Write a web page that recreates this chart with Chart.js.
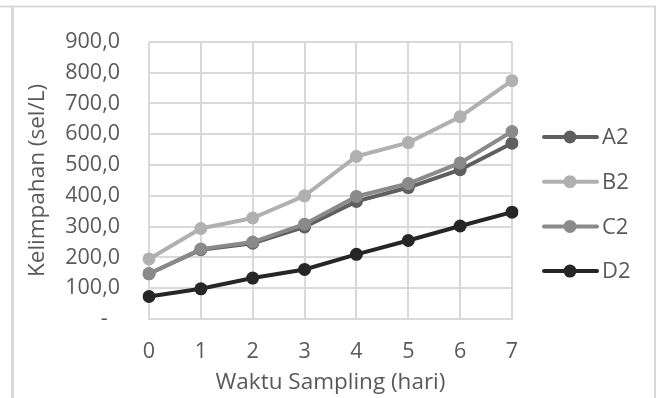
<!DOCTYPE html>
<html>
<head>
<meta charset="utf-8">
<script src="https://cdn.jsdelivr.net/npm/chart.js@4/dist/chart.umd.min.js"></script>
<style>
  html, body { margin: 0; padding: 0; background: #fff; }
  #wrap { width: 658px; height: 398px; }
</style>
</head>
<body>
<div id="wrap"><canvas id="chart" width="658" height="398"></canvas></div>
<script>
// hari ke-
var days = ["0", "1", "2", "3", "4", "5", "6", "7"];
var seriesNames = ["A2", "B2", "C2", "D2"];
var seriesColors = ["#5f5f5f", "#b0b0b0", "#8a8a8a", "#262626"];

var a2 = [147, 225, 246, 299, 382, 427, 485, 571];
var b2 = [195, 294, 328, 400, 528, 573, 657, 774];
var c2 = [147, 227, 250, 308, 398, 440, 507, 609];
var d2 = [73, 98, 133, 161, 210, 255, 302, 347];

var allValues = [a2, b2, c2, d2];
var textColor = "#595959";
var gridColor = "#d9d9d9";
var fontFamily = "'Open Sans', 'Noto Sans', sans-serif";

// frame + legend, Excel style
var excelBits = {
    id: "excelBits",
    beforeDraw: function (chart) {
        var ctx = chart.ctx;
        ctx.save();
        ctx.strokeStyle = gridColor;
        ctx.lineWidth = 2;
        ctx.beginPath();
        ctx.moveTo(0, 6.5);
        ctx.lineTo(656, 6.5);
        ctx.moveTo(655, 6.5);
        ctx.lineTo(655, 398);
        ctx.stroke();
        ctx.lineWidth = 3;
        ctx.beginPath();
        ctx.moveTo(12.5, 6);
        ctx.lineTo(12.5, 398);
        ctx.stroke();
        ctx.restore();
    },
    afterDraw: function (chart) {
        var ctx = chart.ctx;
        ctx.save();
        chart.data.datasets.forEach(function (ds, i) {
            var y = 137 + i * 44.7;
            ctx.strokeStyle = ds.borderColor;
            ctx.lineWidth = 4;
            ctx.lineCap = "round";
            ctx.beginPath();
            ctx.moveTo(544, y);
            ctx.lineTo(597, y);
            ctx.stroke();
            ctx.fillStyle = ds.borderColor;
            ctx.beginPath();
            ctx.arc(570, y, 6.5, 0, Math.PI * 2);
            ctx.fill();
            ctx.fillStyle = textColor;
            ctx.font = "22px " + fontFamily;
            ctx.textBaseline = "middle";
            ctx.textAlign = "left";
            ctx.fillText(ds.label, 602, y + 1);
        });
        ctx.restore();
    }
};

var datasets = seriesNames.map(function (name, i) {
    return {
        label: name,
        data: allValues[i],
        borderColor: seriesColors[i],
        backgroundColor: seriesColors[i],
        borderWidth: 4,
        pointRadius: 6.5,
        pointHoverRadius: 6.5,
        pointBorderWidth: 0,
        tension: 0,
        order: seriesNames.length - 1 - i
    };
});

var ctx = document.getElementById("chart").getContext("2d");
var chart = new Chart(ctx, {
    type: "line",
    data: {
        labels: days,
        datasets: datasets
    },
    plugins: [excelBits],
    options: {
        responsive: false,
        animation: false,
        layout: {
            padding: { top: 36, right: 146, left: 0, bottom: 0 }
        },
        plugins: {
            legend: { display: false },
            tooltip: { enabled: false }
        },
        scales: {
            x: {
                offset: false,
                grid: { color: gridColor, lineWidth: 2, drawTicks: false },
                border: { color: gridColor, width: 2 },
                ticks: {
                    color: textColor,
                    font: { family: fontFamily, size: 21.5 },
                    padding: 20,
                    maxRotation: 0
                },
                title: {
                    display: true,
                    text: "Waktu Sampling (hari)",
                    color: textColor,
                    font: { family: fontFamily, size: 22.5 },
                    padding: { top: 0, bottom: 2 }
                },
                afterFit: function (scale) { scale.height = 79; }
            },
            y: {
                min: 0,
                max: 900,
                grid: { color: gridColor, lineWidth: 2, drawTicks: false },
                border: { display: false },
                ticks: {
                    stepSize: 100,
                    color: textColor,
                    font: { family: fontFamily, size: 21.5 },
                    padding: 29,
                    callback: function (v) {
                        if (v === 0) return "-\u2007";
                        return v.toFixed(1).replace(".", ",");
                    }
                },
                title: {
                    display: true,
                    text: "Kelimpahan (sel/L)",
                    color: textColor,
                    font: { family: fontFamily, size: 22.5 },
                    padding: { top: 24, bottom: 0 }
                },
                afterFit: function (scale) { scale.width = 149; }
            }
        }
    }
});
</script>
</body>
</html>
